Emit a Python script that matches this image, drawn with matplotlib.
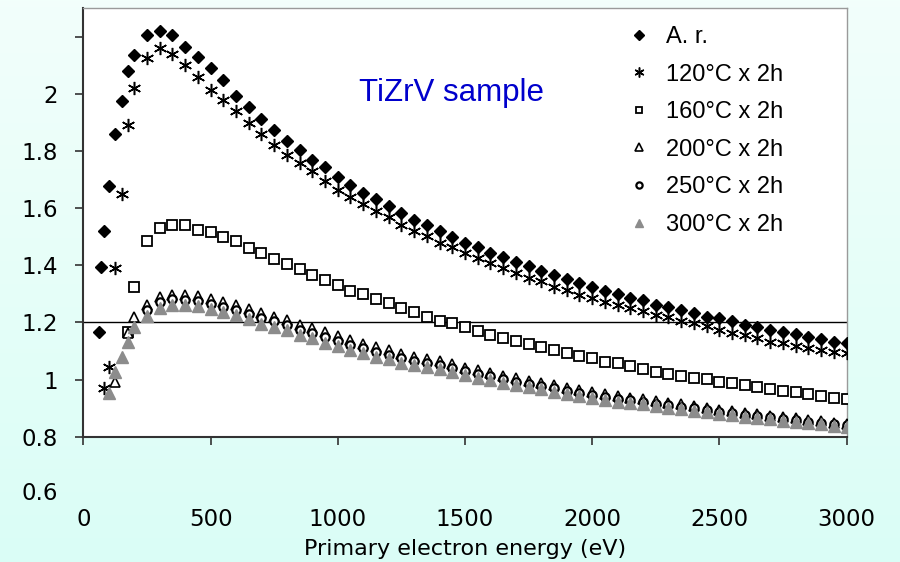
import numpy as np
import matplotlib.pyplot as plt
from matplotlib.transforms import blended_transform_factory

# energies shared by every series from 250 eV up
E_TAIL = [250, 300, 350, 400, 450, 500, 550, 600, 650, 700, 750, 800, 850, 900,
          950, 1000, 1050, 1100, 1150, 1200, 1250, 1300, 1350, 1400, 1450, 1500,
          1550, 1600, 1650, 1700, 1750, 1800, 1850, 1900, 1950, 2000, 2050, 2100,
          2150, 2200, 2250, 2300, 2350, 2400, 2450, 2500, 2550, 2600, 2650, 2700,
          2750, 2800, 2850, 2900, 2950, 3000]

ar_x = [60, 70, 80, 100, 125, 150, 175, 200] + E_TAIL
ar_y = [1.165, 1.395, 1.521, 1.678, 1.860, 1.973, 2.080, 2.136,
        2.204, 2.221, 2.204, 2.165, 2.130,
        2.090, 2.047, 1.993, 1.953, 1.912, 1.874, 1.836, 1.804, 1.769, 1.742, 1.710, 1.681, 1.654, 1.631, 1.608, 1.584, 1.559,
        1.541, 1.518, 1.498, 1.479, 1.465, 1.444, 1.428, 1.411, 1.398, 1.381, 1.364, 1.352, 1.337, 1.322, 1.310, 1.299, 1.285,
        1.279, 1.261, 1.253, 1.244, 1.232, 1.220, 1.215, 1.203, 1.191, 1.185, 1.174, 1.168, 1.160, 1.148, 1.141, 1.133, 1.127]

t120_x = [80, 100, 125, 150, 175, 200] + E_TAIL
t120_y = [0.969, 1.045, 1.390, 1.650, 1.891, 2.020,
          2.125, 2.160, 2.138, 2.101, 2.058,
          2.014, 1.979, 1.938, 1.899, 1.860, 1.821, 1.786, 1.757, 1.728, 1.693, 1.664, 1.637, 1.614, 1.590, 1.568, 1.541, 1.520,
          1.503, 1.479, 1.462, 1.442, 1.425, 1.407, 1.390, 1.372, 1.355, 1.343, 1.323, 1.314, 1.296, 1.285, 1.271, 1.261, 1.250,
          1.238, 1.226, 1.218, 1.206, 1.197, 1.188, 1.174, 1.162, 1.156, 1.145, 1.133, 1.127, 1.119, 1.110, 1.104, 1.098, 1.092]

t160_x = [175, 200] + E_TAIL
t160_y = [1.166, 1.323,
          1.483, 1.530, 1.541, 1.541, 1.524,
          1.515, 1.499, 1.485, 1.460, 1.441, 1.421, 1.404, 1.386, 1.366, 1.349, 1.331, 1.311, 1.299, 1.281, 1.267, 1.250, 1.236,
          1.220, 1.206, 1.197, 1.183, 1.171, 1.156, 1.145, 1.136, 1.125, 1.113, 1.104, 1.094, 1.083, 1.074, 1.063, 1.057, 1.047,
          1.036, 1.028, 1.020, 1.013, 1.007, 1.001, 0.993, 0.987, 0.981, 0.973, 0.967, 0.961, 0.955, 0.948, 0.942, 0.937, 0.932]

t200_x = [125, 175, 200] + E_TAIL
t200_y = [0.993, 1.162, 1.220,
          1.262, 1.288, 1.296, 1.296, 1.293,
          1.283, 1.270, 1.260, 1.246, 1.232, 1.220, 1.208, 1.192, 1.180, 1.166, 1.153, 1.139, 1.126, 1.113, 1.102, 1.089, 1.079,
          1.072, 1.064, 1.054, 1.041, 1.032, 1.023, 1.012, 1.004, 0.995, 0.988, 0.980, 0.970, 0.964, 0.957, 0.948, 0.943, 0.937,
          0.932, 0.925, 0.919, 0.913, 0.907, 0.900, 0.894, 0.890, 0.884, 0.879, 0.874, 0.868, 0.864, 0.858, 0.854, 0.849, 0.845]

t250_x = E_TAIL
t250_y = [1.243, 1.272, 1.280, 1.279, 1.276,
          1.265, 1.254, 1.244, 1.229, 1.214, 1.203, 1.192, 1.175, 1.163, 1.148, 1.136, 1.122, 1.110, 1.097, 1.087, 1.075, 1.066,
          1.059, 1.052, 1.041, 1.029, 1.020, 1.011, 1.001, 0.993, 0.984, 0.977, 0.969, 0.960, 0.954, 0.947, 0.938, 0.933, 0.928,
          0.923, 0.916, 0.911, 0.905, 0.899, 0.893, 0.887, 0.883, 0.877, 0.873, 0.868, 0.862, 0.858, 0.853, 0.849, 0.844, 0.840]

t300_x = [100, 125, 150, 175, 200] + E_TAIL
t300_y = [0.952, 1.028, 1.080, 1.133, 1.183,
          1.223, 1.250, 1.261, 1.261, 1.258,
          1.245, 1.236, 1.227, 1.210, 1.195, 1.185, 1.175, 1.156, 1.145, 1.129, 1.118, 1.104, 1.092, 1.080, 1.071, 1.059, 1.051,
          1.045, 1.038, 1.028, 1.016, 1.007, 0.999, 0.989, 0.981, 0.973, 0.966, 0.958, 0.949, 0.943, 0.937, 0.928, 0.923, 0.918,
          0.914, 0.907, 0.902, 0.896, 0.891, 0.885, 0.879, 0.876, 0.870, 0.866, 0.861, 0.856, 0.852, 0.847, 0.843, 0.838, 0.835]

labels = ["A. r.", "120°C x 2h", "160°C x 2h", "200°C x 2h", "250°C x 2h", "300°C x 2h"]
y_ticks = [0.8, 1.0, 1.2, 1.4, 1.6, 1.8, 2.0, 2.2]
y_tick_labels = ["0.8", "1", "1.2", "1.4", "1.6", "1.8", "2", ""]
x_ticks = [0, 500, 1000, 1500, 2000, 2500, 3000]

fig = plt.figure(figsize=(9, 5.62), dpi=100)

# pale mint background with a soft vertical gradient
bg = fig.add_axes([0, 0, 1, 1], zorder=-10)
grad = np.linspace(0, 1, 256).reshape(-1, 1)
c_top = np.array([0.95, 1.0, 0.985])
c_bot = np.array([0.855, 0.995, 0.965])
img = c_top[None, None, :] * (1 - grad[:, :, None]) + c_bot[None, None, :] * grad[:, :, None]
bg.imshow(img, aspect="auto", extent=[0, 1, 0, 1])
bg.axis("off")

ax = fig.add_axes([0.0926, 0.223, 0.848, 0.7628])
ax.set_facecolor("white")

ax.axhline(1.2, color="black", lw=1.0, zorder=1)

ax.plot(ar_x, ar_y, ls="none", marker="D", ms=6.3, color="black", label=labels[0], zorder=3)
ax.plot(t120_x, t120_y, ls="none", marker=(6, 2, 0), ms=9.5, mew=1.1, color="black", label=labels[1], zorder=3)
ax.plot(t160_x, t160_y, ls="none", marker="s", ms=6.5, mfc="white", mec="black", mew=1.3, label=labels[2], zorder=3)
ax.plot(t200_x, t200_y, ls="none", marker="^", ms=7, mfc="white", mec="black", mew=1.2, label=labels[3], zorder=3)
ax.plot(t250_x, t250_y, ls="none", marker="o", ms=6, mfc="white", mec="black", mew=1.6, label=labels[4], zorder=3)
ax.plot(t300_x, t300_y, ls="none", marker="^", ms=8, color="#8c8c8c", mec="#8c8c8c", label=labels[5], zorder=3)

ax.set_xlim(0, 3000)
ax.set_ylim(0.8, 2.3)
ax.set_yticks(y_ticks)
ax.set_yticklabels(y_tick_labels)
ax.set_xticks(x_ticks)

ax.tick_params(axis="y", direction="out", length=6, width=1.2, pad=12, labelsize=16.5, color="#333333")
ax.tick_params(axis="x", direction="out", length=6, width=1.2, pad=45, labelsize=16.5, color="#333333")

for side in ("left", "bottom"):
    ax.spines[side].set_color("#333333")
    ax.spines[side].set_linewidth(1.5)
for side in ("top", "right"):
    ax.spines[side].set_color("#9a9a9a")
    ax.spines[side].set_linewidth(1.0)

# the 0.6 label sits outside the plot area, as in the original
trans = blended_transform_factory(ax.transAxes, ax.transData)
ax.text(-0.0327, 0.6, "0.6", transform=trans, ha="right", va="center", fontsize=16.5, clip_on=False)

ax.set_xlabel("Primary electron energy (eV)", fontsize=16, labelpad=6)

ax.text(0.482, 0.802, "TiZrV sample", transform=ax.transAxes, ha="center", va="center",
        fontsize=22.5, color="#0000cc", family="Liberation Sans")

ax.legend(loc="upper left", bbox_to_anchor=(0.712, 0.958), frameon=False, borderpad=0,
          borderaxespad=0, handlelength=1.0, handletextpad=0.65, labelspacing=0.66,
          markerscale=0.75, prop={"family": "Liberation Sans", "size": 17})

fig.savefig("out.png", dpi=100)
